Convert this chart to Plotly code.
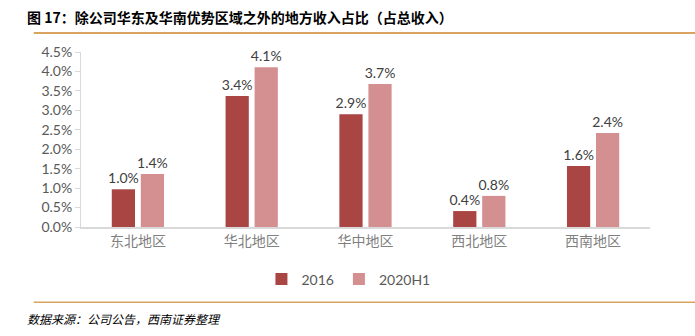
import plotly.graph_objects as go

categories = ["东北地区", "华北地区", "华中地区", "西北地区", "西南地区"]
series_2016 = [0.0097, 0.0337, 0.0290, 0.0041, 0.0157]
series_2020h1 = [0.0136, 0.0411, 0.0368, 0.0080, 0.0242]
labels_2016 = ["1.0%", "3.4%", "2.9%", "0.4%", "1.6%"]
labels_2020h1 = ["1.4%", "4.1%", "3.7%", "0.8%", "2.4%"]
y_ticks = [0, 0.005, 0.01, 0.015, 0.02, 0.025, 0.03, 0.035, 0.04, 0.045]

FONT = "Lato, 'Noto Sans CJK SC', sans-serif"
CJK = "'Noto Sans CJK SC', sans-serif"

fig = go.Figure()
fig.add_trace(go.Bar(name="2016", x=categories, y=series_2016, text=labels_2016,
                     textposition="outside", cliponaxis=False, constraintext="none",
                     marker=dict(color="#A94543", line=dict(width=0)),
                     textfont=dict(size=14, color="#404040", family=FONT)))
fig.add_trace(go.Bar(name="2020H1", x=categories, y=series_2020h1, text=labels_2020h1,
                     textposition="outside", cliponaxis=False, constraintext="none",
                     marker=dict(color="#D49090", line=dict(width=0)),
                     textfont=dict(size=14, color="#404040", family=FONT)))

fig.update_layout(
    width=695, height=336,
    margin=dict(l=81, r=45, t=52, b=109),
    plot_bgcolor="white", paper_bgcolor="white",
    barmode="group", bargap=0.49, bargroupgap=0.2,
    showlegend=True,
    legend=dict(orientation="h", x=0.47, xanchor="center", y=-0.3, yanchor="middle",
                font=dict(size=14, color="#595959", family=FONT),
                itemwidth=30, traceorder="normal"),
    yaxis=dict(range=[0, 0.045], tickvals=y_ticks, tickformat=".1%",
               showgrid=False, zeroline=False,
               showline=True, linecolor="#D9D9D9", linewidth=1,
               ticks="outside", ticklen=5, tickcolor="#D9D9D9",
               tickfont=dict(size=14, color="#595959", family=FONT)),
    xaxis=dict(showline=True, linecolor="#D9D9D9", linewidth=2, ticks="",
               tickfont=dict(size=14, color="#808080", family=CJK)),
    font=dict(family=FONT),
    shapes=[
        dict(type="line", xref="paper", yref="paper", x0=-0.083, x1=1.08,
             y0=1.108, y1=1.108, line=dict(color="#D9A460", width=2)),
        dict(type="line", xref="paper", yref="paper", x0=-0.083, x1=1.08,
             y0=-0.43, y1=-0.43, line=dict(color="#D9A460", width=1.5)),
    ],
    annotations=[
        dict(text="<b>图 17：除公司华东及华南优势区域之外的地方收入占比（占总收入）</b>",
             xref="paper", yref="paper", x=-0.098, y=1.2, xanchor="left", yanchor="middle",
             showarrow=False, font=dict(size=14, color="#000000", family=CJK)),
        dict(text="<i>数据来源：公司公告，西南证券整理</i>",
             xref="paper", yref="paper", x=-0.098, y=-0.52, xanchor="left", yanchor="middle",
             showarrow=False, font=dict(size=12, color="#000000", family=CJK)),
    ],
)

fig.write_html("out.html")
